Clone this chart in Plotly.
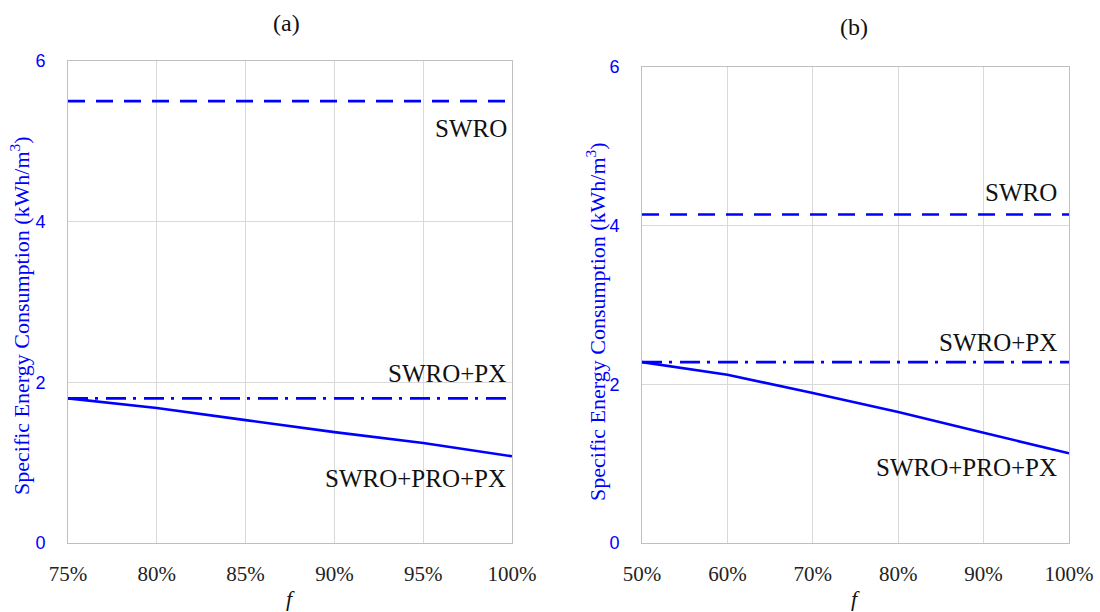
import plotly.graph_objects as go

# ---- data ----
f_a = [0.75, 0.80, 0.85, 0.90, 0.95, 1.00]
swro_a = [5.5] * 6
swro_px_a = [1.8] * 6
swro_pro_px_a = [1.80, 1.68, 1.53, 1.38, 1.245, 1.08]

f_b = [0.50, 0.60, 0.70, 0.80, 0.90, 1.00]
swro_b = [4.14] * 6
swro_px_b = [2.28] * 6
swro_pro_px_b = [2.28, 2.12, 1.89, 1.65, 1.39, 1.13]

series_names = ["SWRO", "SWRO+PX", "SWRO+PRO+PX"]
panel_titles = ["(a)", "(b)"]
y_title = "Specific Energy Consumption (kWh/m<sup>3</sup>)"

BLUE = "#0000ff"
SERIF = "Times New Roman, Liberation Serif, serif"
SANS = "Liberation Sans"
dash_swro = "17px,11px"
dash_px = "20px,7px,3px,8px"

fig = go.Figure()
for xs, ys, dash, ax in [
    (f_a, swro_a, dash_swro, ("x", "y")),
    (f_a, swro_px_a, dash_px, ("x", "y")),
    (f_a, swro_pro_px_a, "solid", ("x", "y")),
    (f_b, swro_b, dash_swro, ("x2", "y2")),
    (f_b, swro_px_b, dash_px, ("x2", "y2")),
    (f_b, swro_pro_px_b, "solid", ("x2", "y2")),
]:
    fig.add_trace(go.Scatter(x=xs, y=ys, mode="lines", xaxis=ax[0], yaxis=ax[1],
                             line=dict(color=BLUE, width=2.6, dash=dash),
                             showlegend=False, hoverinfo="skip"))

W, H = 1100, 612
def px(x): return x / W
def py(y): return 1 - y / H

common_x = dict(showgrid=True, gridcolor="#d9d9d9", gridwidth=1, showline=True,
                linecolor="#bfbfbf", linewidth=1, mirror=True, zeroline=False,
                ticks="", tickformat=".0%", ticklabelstandoff=12, automargin=False,
                tickfont=dict(family=SERIF, size=21, color="#222222"))
common_y = dict(showgrid=True, gridcolor="#d9d9d9", gridwidth=1, showline=True,
                linecolor="#bfbfbf", linewidth=1, mirror=True, zeroline=False,
                ticks="", range=[0, 6], dtick=2, ticklabelstandoff=18, automargin=False,
                tickfont=dict(family=SANS, size=18, color=BLUE))

fig.update_layout(
    width=W, height=H, margin=dict(l=0, r=0, t=0, b=0, autoexpand=False),
    plot_bgcolor="white", paper_bgcolor="white",
    xaxis=dict(common_x, domain=[px(68), px(512)], range=[0.75, 1.0], dtick=0.05, anchor="y"),
    yaxis=dict(common_y, domain=[py(543), py(61)], anchor="x"),
    xaxis2=dict(common_x, domain=[px(642), px(1069)], range=[0.5, 1.0], dtick=0.1, anchor="y2"),
    yaxis2=dict(common_y, domain=[py(543), py(67)], anchor="x2"),
)

ann = []
# panel titles
ann.append(dict(text=panel_titles[0], x=px(286), y=py(23)))
ann.append(dict(text=panel_titles[1], x=px(854), y=py(27)))
for a in ann:
    a.update(xref="paper", yref="paper", showarrow=False, xanchor="center", yanchor="middle",
             font=dict(family=SERIF, size=24, color="#111111"))
# axis titles
for xc in [px(290), px(855)]:
    ann.append(dict(text="<i>f</i>", x=xc, y=py(598), xref="paper", yref="paper", showarrow=False,
                    xanchor="center", yanchor="middle", font=dict(family=SERIF, size=22, color="#111111")))
for xc, yc in [(px(20), py(316)), (px(596), py(322))]:
    ann.append(dict(text=y_title, x=xc, y=yc, xref="paper", yref="paper", showarrow=False,
                    textangle=-90, xanchor="center", yanchor="middle",
                    font=dict(family=SERIF, size=22, color=BLUE)))
# series labels
for name, xr, yc in [(series_names[0], 509, 128), (series_names[1], 508, 373), (series_names[2], 508, 478),
                     (series_names[0], 1059, 192), (series_names[1], 1059, 342), (series_names[2], 1059, 468)]:
    ann.append(dict(text=name, x=px(xr), y=py(yc), xref="paper", yref="paper", showarrow=False,
                    xanchor="right", yanchor="middle", font=dict(family=SERIF, size=25, color="#111111")))
fig.update_layout(annotations=ann)

fig.write_html("out.html")
